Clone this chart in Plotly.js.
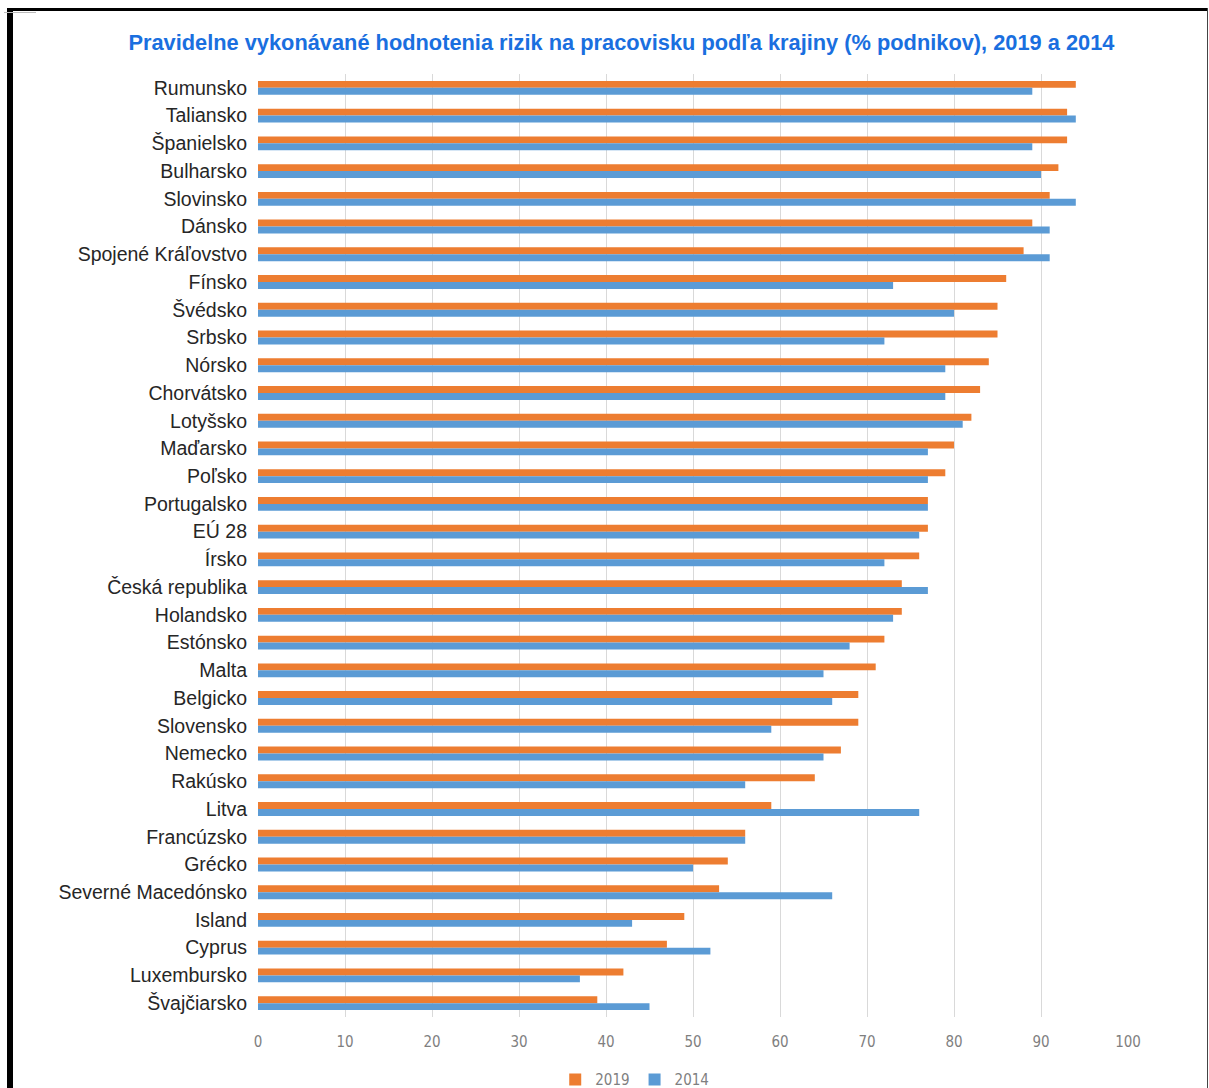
<!DOCTYPE html>
<html>
<head>
<meta charset="utf-8">
<script src="https://cdn.plot.ly/plotly-3.0.1.min.js"></script>
<style>
html,body{margin:0;padding:0;background:#fff;}
#wrap{position:relative;width:1209px;height:1088px;overflow:hidden;}
#chart{position:absolute;left:0;top:0;width:1209px;height:1088px;}
.bd{position:absolute;pointer-events:none;}
</style>
</head>
<body>
<div id="wrap">
<div id="chart"></div>
<div class="bd" style="left:7px;top:8px;width:1201px;height:3px;background:#000;"></div>
<div class="bd" style="left:7px;top:8px;width:6px;height:1080px;background:#000;"></div>
<div class="bd" style="left:1207px;top:8px;width:1px;height:1080px;background:#444;"></div>
<div class="bd" style="left:4px;top:12px;width:32px;height:1px;background:#bbb;"></div>
</div>
<script>
const countries = ["Rumunsko","Taliansko","Španielsko","Bulharsko","Slovinsko","Dánsko","Spojené Kráľovstvo","Fínsko","Švédsko","Srbsko","Nórsko","Chorvátsko","Lotyšsko","Maďarsko","Poľsko","Portugalsko","EÚ 28","Írsko","Česká republika","Holandsko","Estónsko","Malta","Belgicko","Slovensko","Nemecko","Rakúsko","Litva","Francúzsko","Grécko","Severné Macedónsko","Island","Cyprus","Luxembursko","Švajčiarsko"];
const values2019 = [94,93,93,92,91,89,88,86,85,85,84,83,82,80,79,77,77,76,74,74,72,71,69,69,67,64,59,56,54,53,49,47,42,39];
const values2014 = [89,94,89,90,94,91,91,73,80,72,79,79,81,77,77,77,76,72,77,73,68,65,66,59,65,56,76,56,50,66,43,52,37,45];
const xTicks = [0,10,20,30,40,50,60,70,80,90,100];
const chartTitle = "Pravidelne vykonávané hodnotenia rizik na pracovisku podľa krajiny (% podnikov), 2019 a 2014";

const traces = [
  {type:'bar', orientation:'h', name:'2019', y:countries, x:values2019, marker:{color:'#ED7D31'}},
  {type:'bar', orientation:'h', name:'2014', y:countries, x:values2014, marker:{color:'#5B9BD5'}}
];
const layout = {
  width:1209, height:1088,
  margin:{l:258, r:81, t:74, b:71},
  paper_bgcolor:'#fff', plot_bgcolor:'#fff',
  barmode:'group', bargap:0.5, bargroupgap:0,
  font:{family:'"Liberation Sans", Arial, sans-serif'},
  title:{text:chartTitle, x:0.514, xanchor:'center', y:0.961, yanchor:'middle',
         font:{family:'"Liberation Sans", Arial, sans-serif', size:21.8, color:'#1a6fdf', weight:'bold'}},
  xaxis:{range:[0,100], tickvals:xTicks, ticktext:xTicks.map(String), showgrid:true, gridcolor:'#d9d9d9', gridwidth:1,
         zeroline:false, showline:false, ticks:'', ticklabelstandoff:14,
         tickfont:{family:'"Liberation Sans Narrow", "DejaVu Sans Condensed", sans-serif', size:15, color:'#7f7f7f'}, fixedrange:true},
  yaxis:{type:'category', autorange:'reversed', showgrid:false, zeroline:false, showline:false, ticks:'', ticklabelstandoff:10,
         tickfont:{family:'"Liberation Sans", Arial, sans-serif', size:19.5, color:'#262626'}},
  showlegend:true,
  legend:{orientation:'h', xref:'container', yref:'container', x:0.525, xanchor:'center', y:0.0075, yanchor:'middle',
          font:{family:'"Liberation Sans Narrow", "DejaVu Sans Condensed", sans-serif', size:15, color:'#7f7f7f'},
          itemwidth:30, traceorder:'normal', tracegroupgap:0}
};
Plotly.newPlot('chart', traces, layout, {staticPlot:true});
</script>
</body>
</html>
